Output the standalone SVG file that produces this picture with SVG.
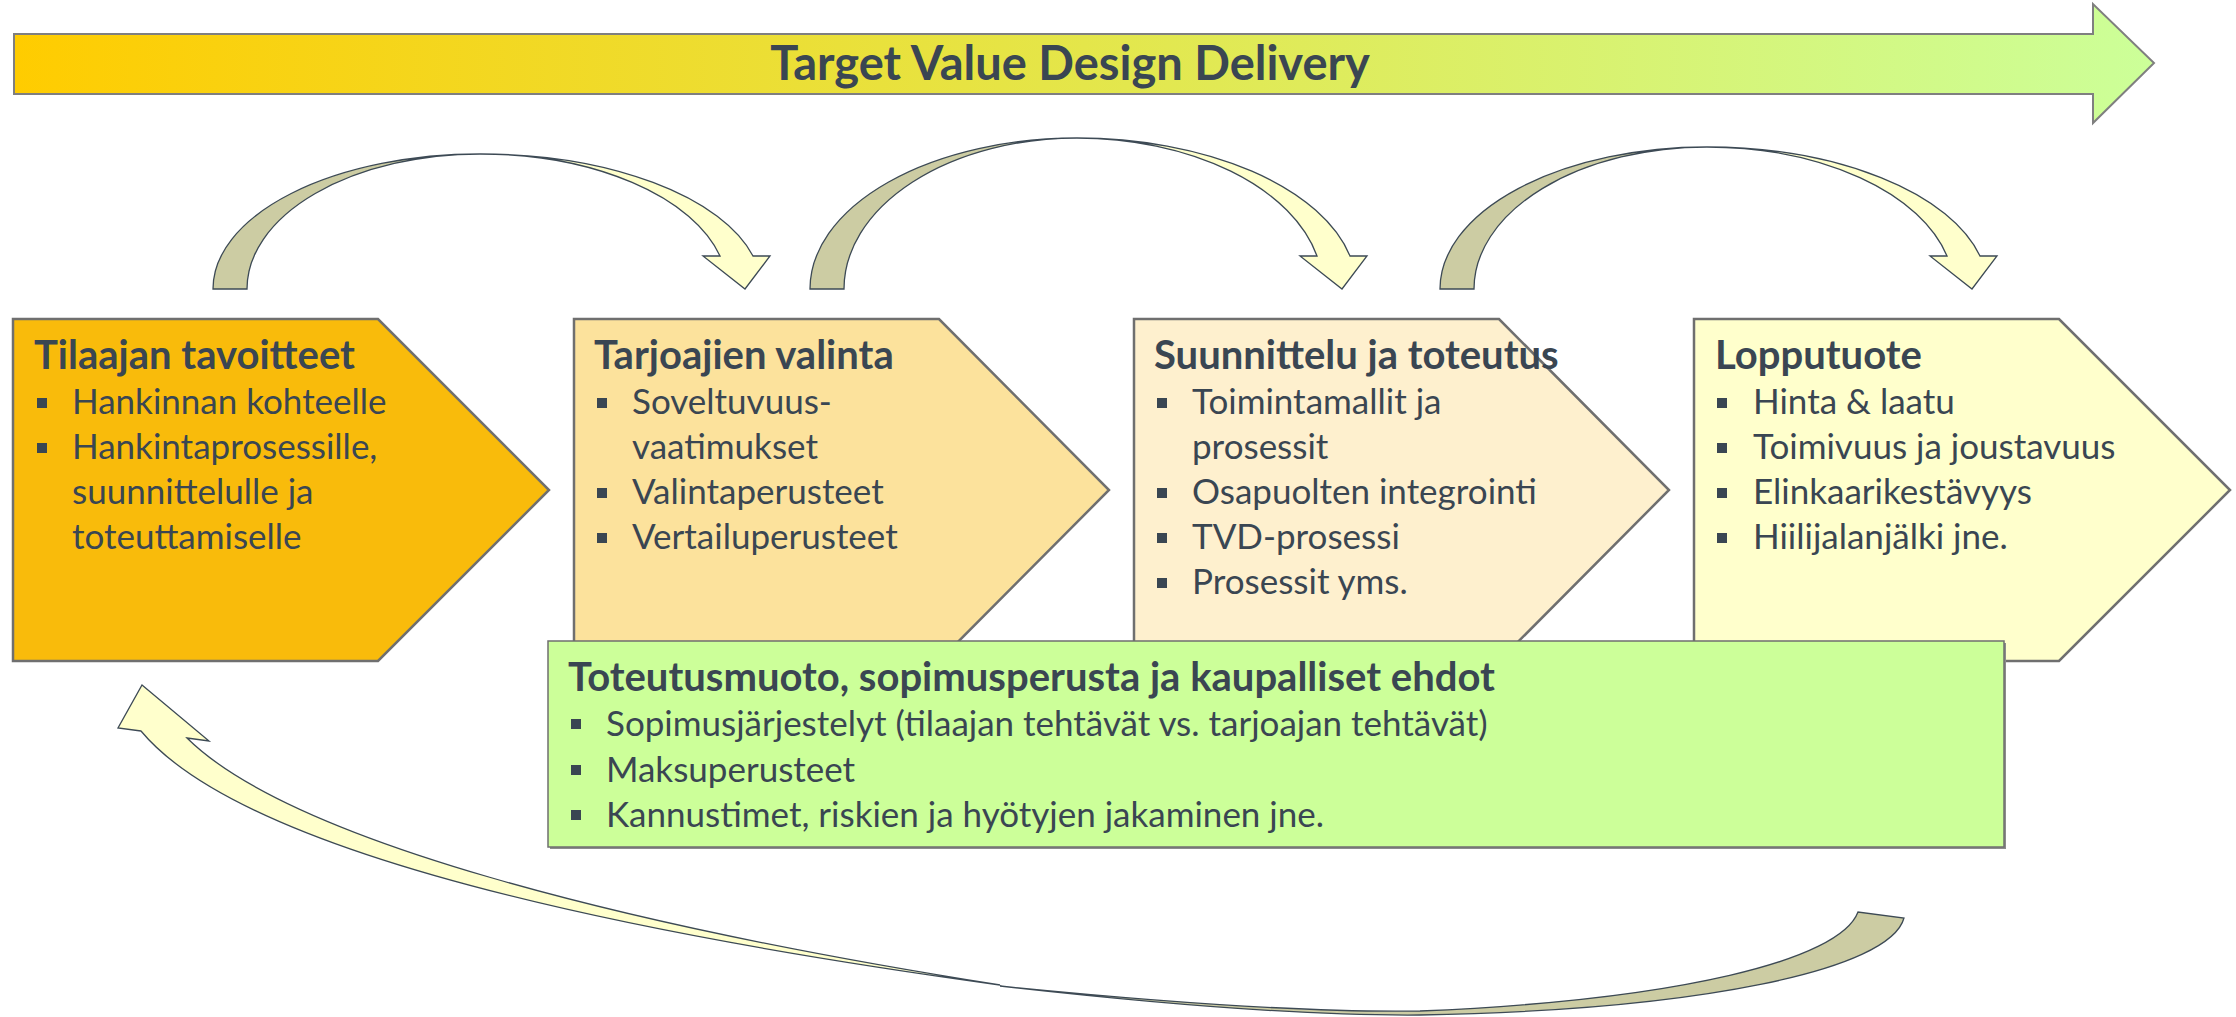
<svg xmlns="http://www.w3.org/2000/svg" width="2236" height="1017" viewBox="0 0 2236 1017">
<defs>
<linearGradient id="bannerGrad" x1="0" y1="0" x2="1" y2="0">
<stop offset="0" stop-color="#FFCC00"/>
<stop offset="0.5" stop-color="#E4E64A"/>
<stop offset="1" stop-color="#CCFF99"/>
</linearGradient>
<style>
.txt{font-family:Lato,"Liberation Sans",sans-serif;fill:#3A4652}
.ttl{font-size:40px;font-weight:bold}
.body{font-size:35px}
.chev{stroke:#6F6F6F;stroke-width:2.5}
.bul{fill:#3A4652}
.back{fill:#CCCCA3;stroke:#3D4A55;stroke-width:1.3}
.front{fill:#FFFFCC;stroke:#3D4A55;stroke-width:1.3}
</style>
</defs>
<rect width="2236" height="1017" fill="#FFFFFF"/>

<g id="banner">
<path d="M14,34 L2093,34 L2093,4 L2154,63 L2093,123 L2093,94 L14,94 Z" fill="url(#bannerGrad)" stroke="#7F7F7F" stroke-width="2"/>
<text class="txt" x="1070" y="80" text-anchor="middle" font-size="47" font-weight="bold">Target Value Design Delivery</text>
</g>

<g id="connectors">
<path class="back" d="M213,289 A267,135 0 0 1 480,154 A233,135 0 0 0 247,289 Z"/>
<path class="front" d="M480,154 A281,135 0 0 1 753,256 L770,256 L745,289 L703,256 L720,256 A247,135 0 0 0 480,154 Z"/>
<path class="back" d="M810,289 A267,151 0 0 1 1077,138 A233,151 0 0 0 844,289 Z"/>
<path class="front" d="M1077,138 A280,151 0 0 1 1350,256 L1367,256 L1342,289 L1300,256 L1317,256 A246,151 0 0 0 1077,138 Z"/>
<path class="back" d="M1440,289 A267,142 0 0 1 1707,147 A233,142 0 0 0 1474,289 Z"/>
<path class="front" d="M1707,147 A281,142 0 0 1 1980,256 L1997,256 L1972,289 L1930,256 L1947,256 A247,142 0 0 0 1707,147 Z"/>
<path class="back" d="M1000,986 C1150,1003 1300,1016 1420,1015 C1700,1010 1890,970 1904,918 L1858,912 C1840,960 1680,1000 1420,1011 C1300,1013 1150,1001 1000,986 Z"/>
<path class="front" d="M141,731 L118,728 L142,685 L209,741 L187,738 C290,840 620,925 1000,985 C600,930 240,850 141,731 Z"/>
</g>

<g id="node-tilaajan">
<path class="chev" d="M13,319 L378,319 L549,490 L378,661 L13,661 Z" fill="#F9BB0B"/>
<text class="txt ttl" x="34" y="369">Tilaajan tavoitteet</text>
<rect class="bul" x="37" y="398" width="10" height="10"/>
<rect class="bul" x="37" y="443" width="10" height="10"/>
<text class="txt body" x="72" y="414">Hankinnan kohteelle</text>
<text class="txt body" x="72" y="459">Hankintaprosessille,</text>
<text class="txt body" x="72" y="504">suunnittelulle ja</text>
<text class="txt body" x="72" y="549">toteuttamiselle</text>
</g>

<g id="node-tarjoajien">
<path class="chev" d="M574,319 L939,319 L1109,490 L939,661 L574,661 Z" fill="#FCE29C"/>
<text class="txt ttl" x="594" y="369">Tarjoajien valinta</text>
<rect class="bul" x="597" y="398" width="10" height="10"/>
<rect class="bul" x="597" y="488" width="10" height="10"/>
<rect class="bul" x="597" y="533" width="10" height="10"/>
<text class="txt body" x="632" y="414">Soveltuvuus-</text>
<text class="txt body" x="632" y="459">vaatimukset</text>
<text class="txt body" x="632" y="504">Valintaperusteet</text>
<text class="txt body" x="632" y="549">Vertailuperusteet</text>
</g>

<g id="node-suunnittelu">
<path class="chev" d="M1134,319 L1499,319 L1669,490 L1499,661 L1134,661 Z" fill="#FEF0CE"/>
<text class="txt ttl" x="1154" y="369">Suunnittelu ja toteutus</text>
<rect class="bul" x="1157" y="398" width="10" height="10"/>
<rect class="bul" x="1157" y="488" width="10" height="10"/>
<rect class="bul" x="1157" y="533" width="10" height="10"/>
<rect class="bul" x="1157" y="578" width="10" height="10"/>
<text class="txt body" x="1192" y="414">Toimintamallit ja</text>
<text class="txt body" x="1192" y="459">prosessit</text>
<text class="txt body" x="1192" y="504">Osapuolten integrointi</text>
<text class="txt body" x="1192" y="549">TVD-prosessi</text>
<text class="txt body" x="1192" y="594">Prosessit yms.</text>
</g>

<g id="node-lopputuote">
<path class="chev" d="M1694,319 L2059,319 L2230,490 L2059,661 L1694,661 Z" fill="#FFFFCC"/>
<text class="txt ttl" x="1715" y="369">Lopputuote</text>
<rect class="bul" x="1717" y="398" width="10" height="10"/>
<rect class="bul" x="1717" y="443" width="10" height="10"/>
<rect class="bul" x="1717" y="488" width="10" height="10"/>
<rect class="bul" x="1717" y="533" width="10" height="10"/>
<text class="txt body" x="1753" y="414">Hinta &amp; laatu</text>
<text class="txt body" x="1753" y="459">Toimivuus ja joustavuus</text>
<text class="txt body" x="1753" y="504">Elinkaarikestävyys</text>
<text class="txt body" x="1753" y="549">Hiilijalanjälki jne.</text>
</g>

<g id="node-toteutusmuoto">
<rect x="550" y="643" width="1456" height="206" fill="#8C8C8C"/>
<rect x="548" y="641" width="1456" height="206" fill="#CCFF99" stroke="#6F6F6F" stroke-width="1.5"/>
<text class="txt ttl" x="568" y="691">Toteutusmuoto, sopimusperusta ja kaupalliset ehdot</text>
<rect class="bul" x="571" y="719" width="10" height="10"/>
<rect class="bul" x="571" y="765" width="10" height="10"/>
<rect class="bul" x="571" y="810" width="10" height="10"/>
<text class="txt body" x="606" y="736">Sopimusjärjestelyt (tilaajan tehtävät vs. tarjoajan tehtävät)</text>
<text class="txt body" x="606" y="782">Maksuperusteet</text>
<text class="txt body" x="606" y="827">Kannustimet, riskien ja hyötyjen jakaminen jne.</text>
</g>
</svg>
